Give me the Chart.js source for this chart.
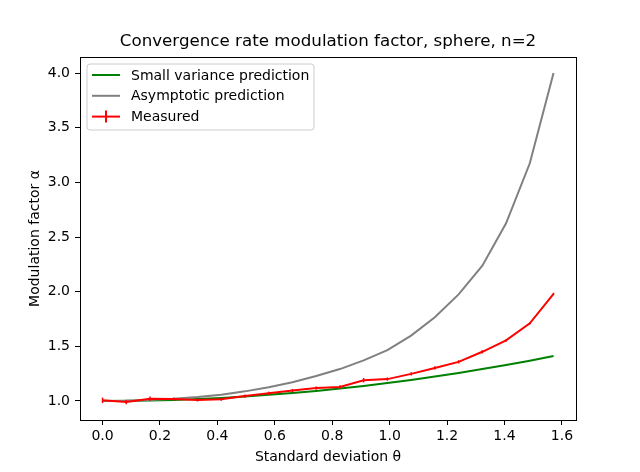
<!DOCTYPE html>
<html lang="en">
<head>
  <meta charset="UTF-8">
  <title>Convergence rate modulation factor</title>
  <script src="https://cdn.jsdelivr.net/npm/chart.js@4.4.0/dist/chart.umd.min.js"></script>
  <style>
    body { margin: 0; background: #fff; }
    .chart-container { width: 640px; height: 472px; }
  </style>
</head>
<body>
  <div class="chart-container">
    <canvas id="alphaChart" width="640" height="472"></canvas>
  </div>

  <script>
    // Data (20 samples between 0 and pi/2)
    const theta = [0, 0.0827, 0.1653, 0.2480, 0.3307, 0.4134, 0.4960, 0.5787, 0.6614, 0.7441,
                   0.8267, 0.9094, 0.9921, 1.0747, 1.1574, 1.2401, 1.3228, 1.4054, 1.4881, 1.5708];
    const smallVariance = [1.000, 1.001, 1.005, 1.010, 1.018, 1.028, 1.041, 1.056, 1.073, 1.092,
                           1.114, 1.138, 1.164, 1.193, 1.223, 1.256, 1.292, 1.329, 1.369, 1.411];
    const asymptotic = [1.000, 1.002, 1.009, 1.020, 1.036, 1.057, 1.088, 1.125, 1.172, 1.228,
                        1.292, 1.372, 1.465, 1.598, 1.766, 1.975, 2.238, 2.625, 3.175, 4.000];
    const measured = [1.006, 0.990, 1.020, 1.017, 1.010, 1.016, 1.045, 1.070, 1.095, 1.118,
                      1.128, 1.190, 1.200, 1.248, 1.302, 1.358, 1.450, 1.555, 1.710, 1.980];
    const measuredErr = [0.025, 0.020, 0.020, 0.015, 0.015, 0.015, 0.015, 0.015, 0.015, 0.015,
                         0.015, 0.020, 0.015, 0.015, 0.015, 0.015, 0.015, 0.012, 0.010, 0.010];
    const xTicks = [0, 0.2, 0.4, 0.6, 0.8, 1.0, 1.2, 1.4, 1.6];
    const yTicks = [1.0, 1.5, 2.0, 2.5, 3.0, 3.5, 4.0];
    const chartTitle = "Convergence rate modulation factor, sphere, n=2";

    const FONT = "'DejaVu Sans', sans-serif";
    Chart.defaults.font.family = FONT;
    Chart.defaults.color = "#000";

    const toPoints = ys => theta.map((x, i) => ({ x: x, y: ys[i] }));

    // Error bars of the measured series, through the chart scales
    const errorBars = {
      id: "errorBars",
      afterDatasetsDraw(chart) {
        const { ctx, scales: { x, y } } = chart;
        ctx.save();
        ctx.strokeStyle = "#ff0000";
        ctx.lineWidth = 1.5;
        measured.forEach((v, i) => {
          const px = x.getPixelForValue(theta[i]);
          ctx.beginPath();
          ctx.moveTo(px, y.getPixelForValue(v - measuredErr[i]));
          ctx.lineTo(px, y.getPixelForValue(v + measuredErr[i]));
          ctx.stroke();
        });
        ctx.restore();
      }
    };

    // Title centred on the axes, box round the axes, matplotlib style legend
    const frameAndLegend = {
      id: "frameAndLegend",
      afterDraw(chart) {
        const { ctx, chartArea: a } = chart;
        ctx.save();
        ctx.fillStyle = "#000";
        ctx.font = "16.7px " + FONT;
        ctx.textAlign = "center";
        ctx.textBaseline = "middle";
        ctx.fillText(chartTitle, (a.left + a.right) / 2, 42);

        ctx.strokeStyle = "#000";
        ctx.lineWidth = 1;
        ctx.strokeRect(Math.round(a.left) + 0.5, Math.round(a.top) + 0.5,
                       Math.round(a.right - a.left), Math.round(a.bottom - a.top));

        // legend box
        const bx = a.left + 7, by = a.top + 7, bw = 227, bh = 66, r = 3;
        ctx.beginPath();
        ctx.moveTo(bx + r, by);
        ctx.arcTo(bx + bw, by, bx + bw, by + bh, r);
        ctx.arcTo(bx + bw, by + bh, bx, by + bh, r);
        ctx.arcTo(bx, by + bh, bx, by, r);
        ctx.arcTo(bx, by, bx + bw, by, r);
        ctx.closePath();
        ctx.fillStyle = "rgba(255,255,255,0.8)";
        ctx.fill();
        ctx.strokeStyle = "#cccccc";
        ctx.stroke();

        ctx.font = "14px " + FONT;
        ctx.textAlign = "left";
        ctx.fillStyle = "#000";
        chart.data.datasets.forEach((ds, i) => {
          const ry = by + 11 + i * 20.8;
          ctx.strokeStyle = ds.borderColor;
          ctx.lineWidth = 2;
          ctx.beginPath();
          ctx.moveTo(bx + 5, ry);
          ctx.lineTo(bx + 33, ry);
          ctx.stroke();
          if (ds.errorBars) {
            ctx.beginPath();
            ctx.moveTo(bx + 19, ry - 6);
            ctx.lineTo(bx + 19, ry + 6);
            ctx.stroke();
          }
          ctx.fillText(ds.label, bx + 44, ry + 1);
        });
        ctx.restore();
      }
    };

    const ctx = document.getElementById("alphaChart").getContext("2d");
    new Chart(ctx, {
      type: "line",
      data: {
        datasets: [
          { label: "Small variance prediction", data: toPoints(smallVariance),
            borderColor: "#008000", borderWidth: 2, pointRadius: 0, order: 2 },
          { label: "Asymptotic prediction", data: toPoints(asymptotic),
            borderColor: "#808080", borderWidth: 2, pointRadius: 0, order: 1 },
          { label: "Measured", data: toPoints(measured), errorBars: true,
            borderColor: "#ff0000", borderWidth: 2, pointRadius: 0, order: 0 }
        ]
      },
      options: {
        responsive: false,
        animation: false,
        layout: { padding: { left: 0, right: 64, top: 57, bottom: 0 } },
        plugins: {
          legend: { display: false },
          tooltip: { enabled: false },
          title: { display: false }
        },
        scales: {
          x: {
            type: "linear",
            min: -0.0785,
            max: 1.649,
            afterBuildTicks: s => { s.ticks = xTicks.map(v => ({ value: v })); },
            afterFit: s => { s.height = 52; },
            grid: { drawOnChartArea: false, drawTicks: true, tickLength: 5, color: "#000" },
            border: { color: "#000", width: 1 },
            ticks: { font: { size: 14 }, padding: 3, maxRotation: 0,
                     callback: v => v.toFixed(1) },
            title: { display: true, text: "Standard deviation θ",
                     font: { size: 14 }, padding: { top: 0, bottom: 6 } }
          },
          y: {
            type: "linear",
            min: 0.826,
            max: 4.147,
            afterBuildTicks: s => { s.ticks = yTicks.map(v => ({ value: v })); },
            afterFit: s => { s.width = 80; },
            grid: { drawOnChartArea: false, drawTicks: true, tickLength: 5, color: "#000" },
            border: { color: "#000", width: 1 },
            ticks: { font: { size: 14 }, padding: 5,
                     callback: v => v.toFixed(1) },
            title: { display: true, text: "Modulation factor α",
                     font: { size: 14 }, padding: { top: 27, bottom: 0 } }
          }
        }
      },
      plugins: [errorBars, frameAndLegend]
    });
  </script>
</body>
</html>
